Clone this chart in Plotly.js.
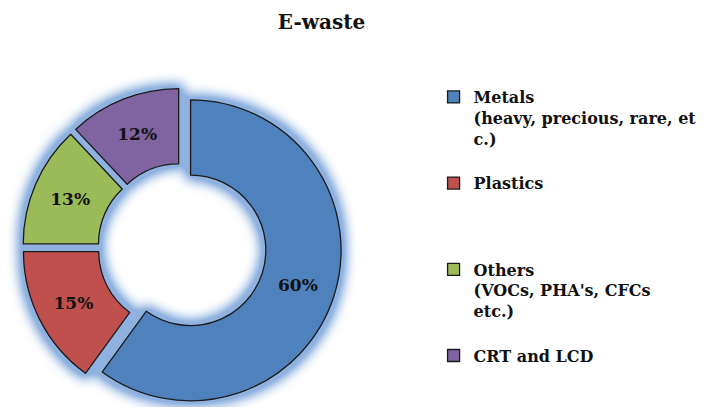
<!DOCTYPE html>
<html>
<head>
<meta charset="utf-8">
<script src="https://cdn.plot.ly/plotly-3.0.1.min.js"></script>
<style>
  html, body { margin: 0; padding: 0; background: #ffffff; overflow: hidden; }
  #chart { width: 705px; height: 407px; }
</style>
</head>
<body>
<div id="chart"></div>
<script>
// ---- data ----
var categories = ['Metals', 'Plastics', 'Others', 'CRT and LCD'];
var categoryDetails = ['(heavy, precious, rare, et<br>c.)', '', "(VOCs, PHA's, CFCs<br>etc.)", ''];
var shares = [60, 15, 13, 12];
var chartTitle = 'E-waste';

// ---- presentation ----
var colors = ['#4F81BD', '#C0504D', '#9BBB59', '#8064A2'];
var serif = 'DejaVu Serif';

// legend labels padded to equal line count (Excel-like even spacing)
var legendLabels = categories.map(function (c, i) {
  var lines = [c];
  if (categoryDetails[i]) lines = lines.concat(categoryDetails[i].split('<br>'));
  while (lines.length < 4) lines.push(' ');
  return lines.join('<br>');
});

var domain = { x: [0.0319, 0.4844], y: [0, 0.7838] };

var glow = {
  type: 'pie', labels: legendLabels, values: shares, sort: false,
  direction: 'clockwise', rotation: 0, hole: 0.5, pull: 0.06, domain: domain,
  textinfo: 'none', hoverinfo: 'skip', showlegend: false,
  marker: { colors: ['#7fa6d8', '#7fa6d8', '#7fa6d8', '#7fa6d8'], line: { width: 0 } }
};

var pie = {
  type: 'pie', labels: legendLabels, values: shares, sort: false,
  direction: 'clockwise', rotation: 0, hole: 0.5, pull: 0.06, domain: domain,
  textinfo: 'percent', textposition: 'inside', insidetextorientation: 'horizontal',
  textfont: { family: serif, size: 17, color: '#111111', weight: 'bold' },
  marker: { colors: colors, line: { color: '#1a1a1a', width: 1.3 } },
  hoverinfo: 'label+percent'
};

var layout = {
  width: 705, height: 407,
  margin: { l: 0, r: 0, t: 0, b: 0, autoexpand: false },
  paper_bgcolor: '#ffffff', plot_bgcolor: '#ffffff',
  font: { family: serif, color: '#111111' },
  title: {
    text: chartTitle,
    font: { family: serif, size: 20, color: '#111111', weight: 'bold' },
    x: 0.456, xanchor: 'center', xref: 'paper',
    y: 1 - 22 / 407, yanchor: 'middle', yref: 'container'
  },
  showlegend: true,
  legend: {
    x: 0.615, xanchor: 'left',
    y: 1 - 80 / 407, yanchor: 'top',
    valign: 'top',
    font: { family: serif, size: 16, color: '#111111', weight: 'bold' },
    bgcolor: 'rgba(0,0,0,0)',
    itemclick: false
  }
};

function addGlow(gd) {
  var svg = gd.querySelector('svg.main-svg');
  var ns = 'http://www.w3.org/2000/svg';
  var defs = svg.querySelector('defs') || svg.insertBefore(document.createElementNS(ns, 'defs'), svg.firstChild);
  var f = document.createElementNS(ns, 'filter');
  f.setAttribute('id', 'donutGlow');
  f.setAttribute('x', '-30%'); f.setAttribute('y', '-30%');
  f.setAttribute('width', '160%'); f.setAttribute('height', '160%');
  var parts = [
    ['feMorphology', { 'in': 'SourceAlpha', operator: 'dilate', radius: '5', result: 'dil' }],
    ['feGaussianBlur', { 'in': 'dil', stdDeviation: '6', result: 'blur' }],
    ['feFlood', { 'flood-color': '#8fb2e0', 'flood-opacity': '1', result: 'col' }],
    ['feComposite', { 'in': 'col', in2: 'blur', operator: 'in', result: 'g' }]
  ];
  parts.forEach(function (p) {
    var el = document.createElementNS(ns, p[0]);
    Object.keys(p[1]).forEach(function (k) { el.setAttribute(k, p[1][k]); });
    f.appendChild(el);
  });
  var ct = document.createElementNS(ns, 'feComponentTransfer');
  var fa = document.createElementNS(ns, 'feFuncA');
  fa.setAttribute('type', 'linear'); fa.setAttribute('slope', '1.5');
  ct.appendChild(fa);
  f.appendChild(ct);
  defs.appendChild(f);
  var traces = gd.querySelectorAll('.pielayer .trace');
  if (traces.length) traces[0].setAttribute('filter', 'url(#donutGlow)');
}

Plotly.newPlot('chart', [glow, pie], layout, { displayModeBar: false, staticPlot: true })
  .then(function (gd) { addGlow(gd); });
</script>
</body>
</html>
